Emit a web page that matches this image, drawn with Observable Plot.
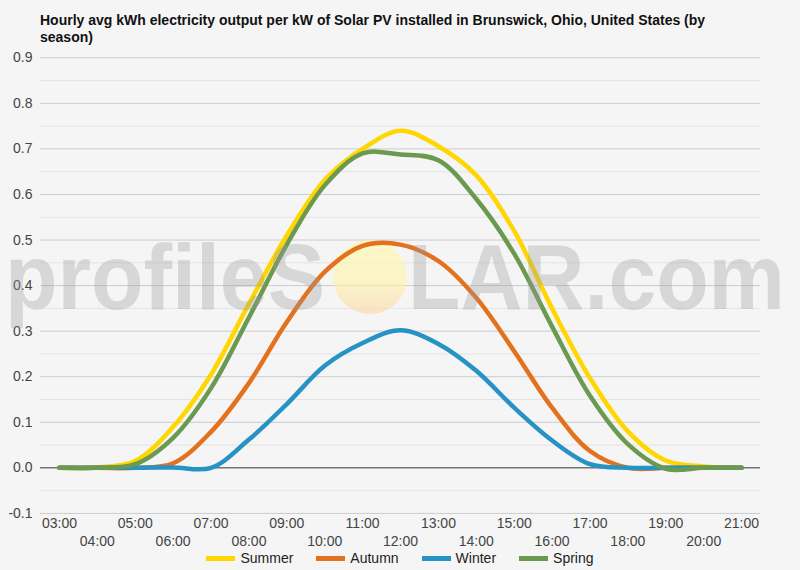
<!DOCTYPE html>
<html><head><meta charset="utf-8">
<script src="https://cdn.jsdelivr.net/npm/d3@7"></script>
<script src="https://cdn.jsdelivr.net/npm/@observablehq/plot@0.6"></script>
<style>
html,body{margin:0;padding:0;background:#f5f5f5;}
body{width:800px;height:570px;overflow:hidden;font-family:Arial,"Liberation Sans",sans-serif;position:relative;}
#title{box-sizing:border-box;height:46px;padding:12px 0 0 40px;font-size:14px;font-weight:bold;line-height:17px;color:#111;width:800px;}
#chart{height:520px;}
#legend{position:absolute;left:0;top:546px;width:800px;height:24px;display:flex;justify-content:center;align-items:center;gap:23px;font-size:14px;color:#222;}
.item{display:flex;align-items:center;}
.sw{width:29px;height:5px;margin-right:5px;}
</style></head>
<body>
<div id="title">Hourly avg kWh electricity output per kW of Solar PV installed in Brunswick, Ohio, United States (by<br>season)</div>
<div id="chart"></div>
<div id="legend"></div>
<script>
const hours = ["03:00","04:00","05:00","06:00","07:00","08:00","09:00","10:00","11:00","12:00","13:00","14:00","15:00","16:00","17:00","18:00","19:00","20:00","21:00"];
const summer = [0, 0.001, 0.015, 0.09, 0.205, 0.36, 0.51, 0.632, 0.70, 0.74, 0.706, 0.642, 0.52, 0.35, 0.197, 0.08, 0.016, 0.003, 0];
const autumn = [0, 0, 0, 0.01, 0.079, 0.186, 0.32, 0.43, 0.487, 0.49, 0.454, 0.373, 0.256, 0.132, 0.037, 0, 0, 0, 0];
const winter = [0, 0, 0, 0.001, 0, 0.062, 0.14, 0.224, 0.274, 0.302, 0.272, 0.213, 0.132, 0.06, 0.008, 0, 0, 0, 0];
const spring = [0, 0, 0.008, 0.066, 0.175, 0.33, 0.49, 0.62, 0.69, 0.688, 0.675, 0.59, 0.47, 0.31, 0.158, 0.052, -0.002, 0, 0];
const seasons = ["Summer","Autumn","Winter","Spring"];
const colors = ["#FFD600","#E3721F","#2693C4","#6A9A4F"];
const yTicks = [-0.1, 0, 0.1, 0.2, 0.3, 0.4, 0.5, 0.6, 0.7, 0.8, 0.9];

const seriesValues = [summer, autumn, winter, spring];
const data = seasons.flatMap((s, i) => seriesValues[i].map((v, j) => ({hour: hours[j], value: v, season: s})));
const minorTicks = yTicks.slice(0, -1).map((v, i) => (v + yTicks[i + 1]) / 2);

function sunMark() {
  const g = d3.create("svg:g");
  const defs = g.append("defs");
  const lg = defs.append("linearGradient").attr("id", "sungrad").attr("x1", 0).attr("y1", 0).attr("x2", 0).attr("y2", 1);
  lg.append("stop").attr("offset", "0%").attr("stop-color", "#fffaa8");
  lg.append("stop").attr("offset", "55%").attr("stop-color", "#fff4ac");
  lg.append("stop").attr("offset", "100%").attr("stop-color", "#fcd6a8");
  g.append("circle").attr("cx", 370).attr("cy", 231).attr("r", 37).attr("fill", "url(#sungrad)").attr("opacity", 0.62);
  return g.node();
}
function textMark() {
  const g = d3.create("svg:g")
    .attr("font-family", "Arial, 'Liberation Sans', sans-serif")
    .attr("font-weight", "bold").attr("font-size", 92)
    .attr("text-anchor", "start")
    .attr("fill", "#9a9a9a").attr("opacity", 0.32);
  g.append("text").attr("x", 5).attr("y", 263).attr("textLength", 320).attr("lengthAdjust", "spacingAndGlyphs").text("profileS");
  g.append("text").attr("x", 408).attr("y", 263).attr("textLength", 377).attr("lengthAdjust", "spacingAndGlyphs").text("LAR.com");
  return g.node();
}

const chart = Plot.plot({
  width: 800,
  height: 520,
  marginLeft: 40,
  marginRight: 40,
  marginTop: 11.3,
  marginBottom: 53.1,
  style: {background: "transparent", fontFamily: "Arial, 'Liberation Sans', sans-serif", fontSize: "14px", color: "#444"},
  x: {type: "point", domain: hours, padding: 0.5, round: false},
  y: {domain: [-0.1, 0.9]},
  color: {domain: seasons, range: colors},
  marks: [
    Plot.ruleY(minorTicks, {stroke: "#e4e4e4", strokeWidth: 1}),
    Plot.ruleY(yTicks.filter(v => v !== 0), {stroke: "#cccccc", strokeWidth: 1}),
    sunMark,
    Plot.ruleY([0], {stroke: "#333333", strokeWidth: 1}),
    Plot.axisY({ticks: yTicks, tickFormat: d => d.toFixed(1), tickSize: 0, tickPadding: 8, label: null, fontSize: 14, fill: "#444"}),
    Plot.axisX({ticks: hours.filter((d, i) => i % 2 === 0), tickSize: 0, tickPadding: 5, label: null, fontSize: 14, fill: "#444"}),
    Plot.axisX({ticks: hours.filter((d, i) => i % 2 === 1), tickSize: 0, tickPadding: 5, dy: 18, label: null, fontSize: 14, fill: "#444"}),
    Plot.line(data, {x: "hour", y: "value", stroke: "season", z: "season", strokeWidth: 4.5, curve: "catmull-rom", strokeLinecap: "round"}),
    textMark
  ]
});
document.getElementById("chart").appendChild(chart);

const legend = d3.select("#legend");
seasons.forEach((s, i) => {
  const it = legend.append("div").attr("class", "item");
  it.append("div").attr("class", "sw").style("background", colors[i]);
  it.append("span").text(s);
});
</script>
</body></html>
